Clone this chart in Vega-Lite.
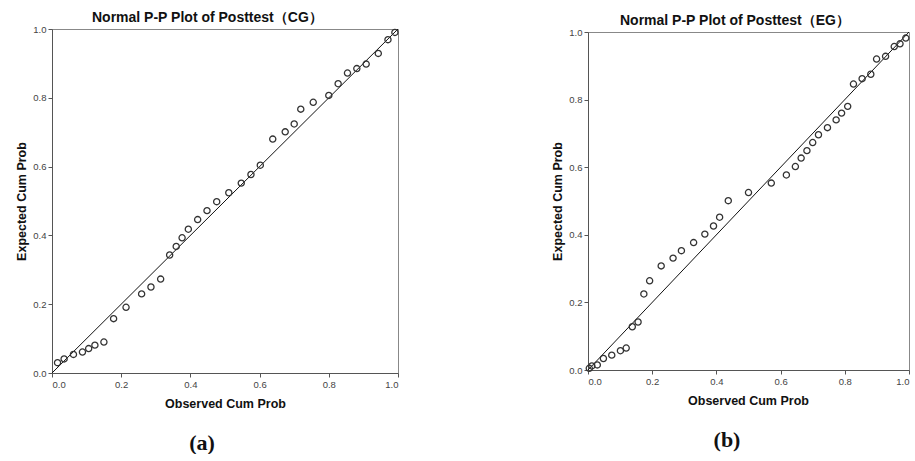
{
  "$schema": "https://vega.github.io/schema/vega-lite/v6.json",
  "autosize": {"type": "pad"},
  "padding": {"left": 14, "top": 10, "right": 0, "bottom": 0},
  "background": "white",
  "center": true,
  "spacing": 148,
  "config": {
    "view": {"stroke": "#888", "strokeWidth": 1},
    "axis": {
      "grid": false,
      "domainColor": "#555",
      "tickColor": "#555",
      "tickSize": 4,
      "labelPadding": 2,
      "labelFont": "Liberation Sans",
      "labelFontSize": 9.5,
      "labelColor": "#444",
      "titleFont": "Liberation Sans",
      "titleFontSize": 12.5,
      "titleFontWeight": "bold",
      "titleColor": "#111"
    },
    "title": {"font": "Liberation Sans", "fontSize": 14, "fontWeight": "bold", "color": "#111"}
  },
  "datasets": {
    "cg": [
      {"observed": 0.016, "expected": 0.030},
      {"observed": 0.035, "expected": 0.041},
      {"observed": 0.062, "expected": 0.054},
      {"observed": 0.088, "expected": 0.061},
      {"observed": 0.106, "expected": 0.071},
      {"observed": 0.124, "expected": 0.081},
      {"observed": 0.150, "expected": 0.090},
      {"observed": 0.178, "expected": 0.158},
      {"observed": 0.214, "expected": 0.191},
      {"observed": 0.259, "expected": 0.230},
      {"observed": 0.286, "expected": 0.250},
      {"observed": 0.314, "expected": 0.273},
      {"observed": 0.340, "expected": 0.343},
      {"observed": 0.359, "expected": 0.368},
      {"observed": 0.376, "expected": 0.393},
      {"observed": 0.394, "expected": 0.418},
      {"observed": 0.421, "expected": 0.446},
      {"observed": 0.448, "expected": 0.472},
      {"observed": 0.476, "expected": 0.498},
      {"observed": 0.511, "expected": 0.524},
      {"observed": 0.547, "expected": 0.552},
      {"observed": 0.575, "expected": 0.577},
      {"observed": 0.602, "expected": 0.604},
      {"observed": 0.638, "expected": 0.680},
      {"observed": 0.674, "expected": 0.701},
      {"observed": 0.700, "expected": 0.724},
      {"observed": 0.719, "expected": 0.767},
      {"observed": 0.755, "expected": 0.787},
      {"observed": 0.800, "expected": 0.807},
      {"observed": 0.827, "expected": 0.841},
      {"observed": 0.854, "expected": 0.872},
      {"observed": 0.881, "expected": 0.885},
      {"observed": 0.908, "expected": 0.898},
      {"observed": 0.943, "expected": 0.929},
      {"observed": 0.971, "expected": 0.969},
      {"observed": 0.991, "expected": 0.990}
    ],
    "eg": [
      {"observed": 0.004, "expected": 0.005},
      {"observed": 0.012, "expected": 0.012},
      {"observed": 0.029, "expected": 0.015},
      {"observed": 0.048, "expected": 0.034},
      {"observed": 0.074, "expected": 0.044},
      {"observed": 0.101, "expected": 0.057},
      {"observed": 0.119, "expected": 0.065},
      {"observed": 0.138, "expected": 0.128},
      {"observed": 0.156, "expected": 0.142},
      {"observed": 0.174, "expected": 0.225},
      {"observed": 0.192, "expected": 0.264},
      {"observed": 0.228, "expected": 0.308},
      {"observed": 0.265, "expected": 0.331},
      {"observed": 0.291, "expected": 0.353},
      {"observed": 0.329, "expected": 0.377},
      {"observed": 0.364, "expected": 0.402},
      {"observed": 0.391, "expected": 0.426},
      {"observed": 0.410, "expected": 0.452},
      {"observed": 0.437, "expected": 0.501},
      {"observed": 0.500, "expected": 0.525},
      {"observed": 0.571, "expected": 0.553},
      {"observed": 0.618, "expected": 0.577},
      {"observed": 0.646, "expected": 0.602},
      {"observed": 0.664, "expected": 0.627},
      {"observed": 0.682, "expected": 0.649},
      {"observed": 0.700, "expected": 0.673},
      {"observed": 0.718, "expected": 0.696},
      {"observed": 0.746, "expected": 0.717},
      {"observed": 0.773, "expected": 0.740},
      {"observed": 0.790, "expected": 0.760},
      {"observed": 0.809, "expected": 0.780},
      {"observed": 0.827, "expected": 0.846},
      {"observed": 0.854, "expected": 0.862},
      {"observed": 0.881, "expected": 0.875},
      {"observed": 0.899, "expected": 0.920},
      {"observed": 0.927, "expected": 0.928},
      {"observed": 0.954, "expected": 0.957},
      {"observed": 0.972, "expected": 0.965},
      {"observed": 0.990, "expected": 0.982}
    ],
    "diag": [
      {"observed": 0, "expected": 0},
      {"observed": 1, "expected": 1}
    ]
  },
  "hconcat": [
    {
      "title": {"text": "(a)", "orient": "bottom", "anchor": "middle", "frame": "group", "font": "Liberation Serif", "fontSize": 22, "fontWeight": "bold", "color": "#111", "dx": 150, "offset": 23},
      "vconcat": [
        {
          "width": 346,
          "height": 344,
          "title": {"text": "Normal P-P Plot of Posttest（CG）", "anchor": "start", "frame": "group", "dx": 40, "offset": -12, "baseline": "alphabetic"},
          "layer": [
            {
              "data": {"name": "diag"},
              "mark": {"type": "line", "color": "#111", "strokeWidth": 1},
              "encoding": {
                "x": {"field": "observed", "type": "quantitative", "scale": {"domain": [0, 1], "nice": false}, "axis": {"values": [0, 0.2, 0.4, 0.6, 0.8, 1], "format": ".1f", "title": "Observed Cum Prob", "titleX": 173, "titleY": 30, "titleBaseline": "middle"}},
                "y": {"field": "expected", "type": "quantitative", "scale": {"domain": [0, 1], "nice": false}, "axis": {"values": [0, 0.2, 0.4, 0.6, 0.8, 1], "format": ".1f", "title": "Expected Cum Prob", "titleX": -31, "titleY": 172, "titleBaseline": "middle", "titleAngle": -90}}
              }
            },
            {
              "data": {"name": "cg"},
              "mark": {"type": "point", "shape": "circle", "filled": false, "color": "#333", "strokeWidth": 1.3, "size": 38, "opacity": 1},
              "encoding": {
                "x": {"field": "observed", "type": "quantitative"},
                "y": {"field": "expected", "type": "quantitative"}
              }
            }
          ]
        }
      ]
    },
    {
      "title": {"text": "(b)", "orient": "bottom", "anchor": "middle", "frame": "group", "font": "Liberation Serif", "fontSize": 22, "fontWeight": "bold", "color": "#111", "dx": 139, "offset": 23},
      "vconcat": [
        {
          "width": 321,
          "height": 338,
          "title": {"text": "Normal P-P Plot of Posttest（EG）", "anchor": "start", "frame": "group", "dx": 32, "offset": -12, "baseline": "alphabetic"},
          "layer": [
            {
              "data": {"name": "diag"},
              "mark": {"type": "line", "color": "#111", "strokeWidth": 1},
              "encoding": {
                "x": {"field": "observed", "type": "quantitative", "scale": {"domain": [0, 1], "nice": false}, "axis": {"values": [0, 0.2, 0.4, 0.6, 0.8, 1], "format": ".1f", "title": "Observed Cum Prob", "titleX": 160, "titleY": 30, "titleBaseline": "middle"}},
                "y": {"field": "expected", "type": "quantitative", "scale": {"domain": [0, 1], "nice": false}, "axis": {"values": [0, 0.2, 0.4, 0.6, 0.8, 1], "format": ".1f", "title": "Expected Cum Prob", "titleX": -31, "titleY": 169, "titleBaseline": "middle", "titleAngle": -90}}
              }
            },
            {
              "data": {"name": "eg"},
              "mark": {"type": "point", "shape": "circle", "filled": false, "color": "#333", "strokeWidth": 1.3, "size": 38, "opacity": 1},
              "encoding": {
                "x": {"field": "observed", "type": "quantitative"},
                "y": {"field": "expected", "type": "quantitative"}
              }
            }
          ]
        }
      ]
    }
  ]
}
